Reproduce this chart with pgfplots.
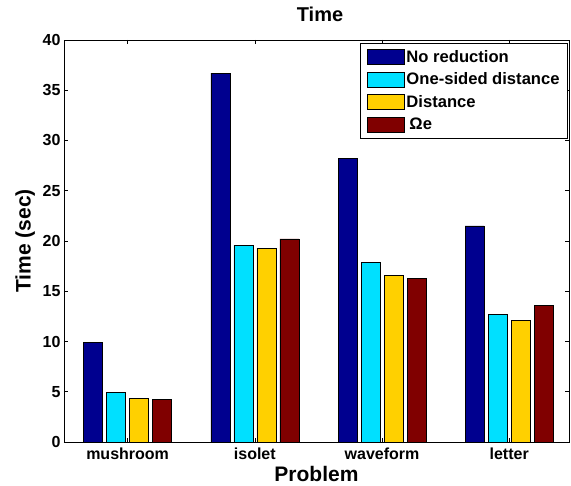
\documentclass[border=0pt]{standalone}
\usepackage{pgfplots}
\pgfplotsset{compat=1.18}
\usepackage{fontspec}
\setmainfont{Liberation Sans}

\definecolor{cnavy}{RGB}{0,0,143}
\definecolor{ccyan}{RGB}{0,224,255}
\definecolor{cyell}{RGB}{255,208,0}
\definecolor{cred}{RGB}{128,0,0}

\begin{document}
\begin{tikzpicture}
	\begin{axis}[
		at={(64pt,44pt)}, anchor=south west,
		scale only axis,
		width=505pt, height=402pt,
		xmin=0.5, xmax=4.47,
		ymin=0, ymax=40,
		ytick distance=5,
		xtick={1,2,3,4},
		xticklabels={mushroom,isolet,waveform,letter},
		ybar=4pt, bar width=19pt,
		tick align=inside,
		major tick length=4pt,
		axis line style={line width=0.8pt},
		every tick/.style={black, line width=0.5pt},
		/pgf/number format/assume math mode=true,
		tick label style={font=\fontsize{16}{18}\selectfont\bfseries},
		xticklabel style={yshift=-2pt},
		title={Time},
		title style={font=\fontsize{20}{22}\selectfont\bfseries, at={(axis description cs:0.507,1.05)}, anchor=center},
		xlabel={Problem},
		xlabel style={font=\fontsize{21}{23}\selectfont\bfseries, at={(axis description cs:0.5,-0.08)}, anchor=center},
		ylabel={Time (sec)},
		ylabel style={font=\fontsize{21}{23}\selectfont\bfseries, at={(axis description cs:-0.077,0.5)}, anchor=center},
		legend style={at={(1,1)}, xshift=-1pt, yshift=-3pt, anchor=north east,
			font=\fontsize{16.6}{18}\selectfont\bfseries,
			draw=black, line width=0.8pt, inner xsep=6pt, inner ysep=5pt, row sep=5pt,
			cells={anchor=west}},
		legend image code/.code={\draw[#1, line width=0.6pt] (-4pt,-7.5pt) rectangle (33pt,7.5pt);},
		every axis plot/.append style={draw=black, line width=0.6pt},
		]
		\addplot[fill=cnavy] coordinates {(1,9.9) (2,36.7) (3,28.2) (4,21.5)};
		\addlegendentry{No reduction}
		\addplot[fill=ccyan] coordinates {(1,4.9) (2,19.6) (3,17.9) (4,12.7)};
		\addlegendentry{One-sided distance}
		\addplot[fill=cyell] coordinates {(1,4.3) (2,19.3) (3,16.6) (4,12.1)};
		\addlegendentry{Distance}
		\addplot[fill=cred] coordinates {(1,4.25) (2,20.2) (3,16.25) (4,13.6)};
		\addlegendentry{\hspace{3pt}Ωe}
	\end{axis}
	\pgfresetboundingbox
	\path[use as bounding box] (0,0) rectangle (571pt,486pt);
\end{tikzpicture}
\end{document}
